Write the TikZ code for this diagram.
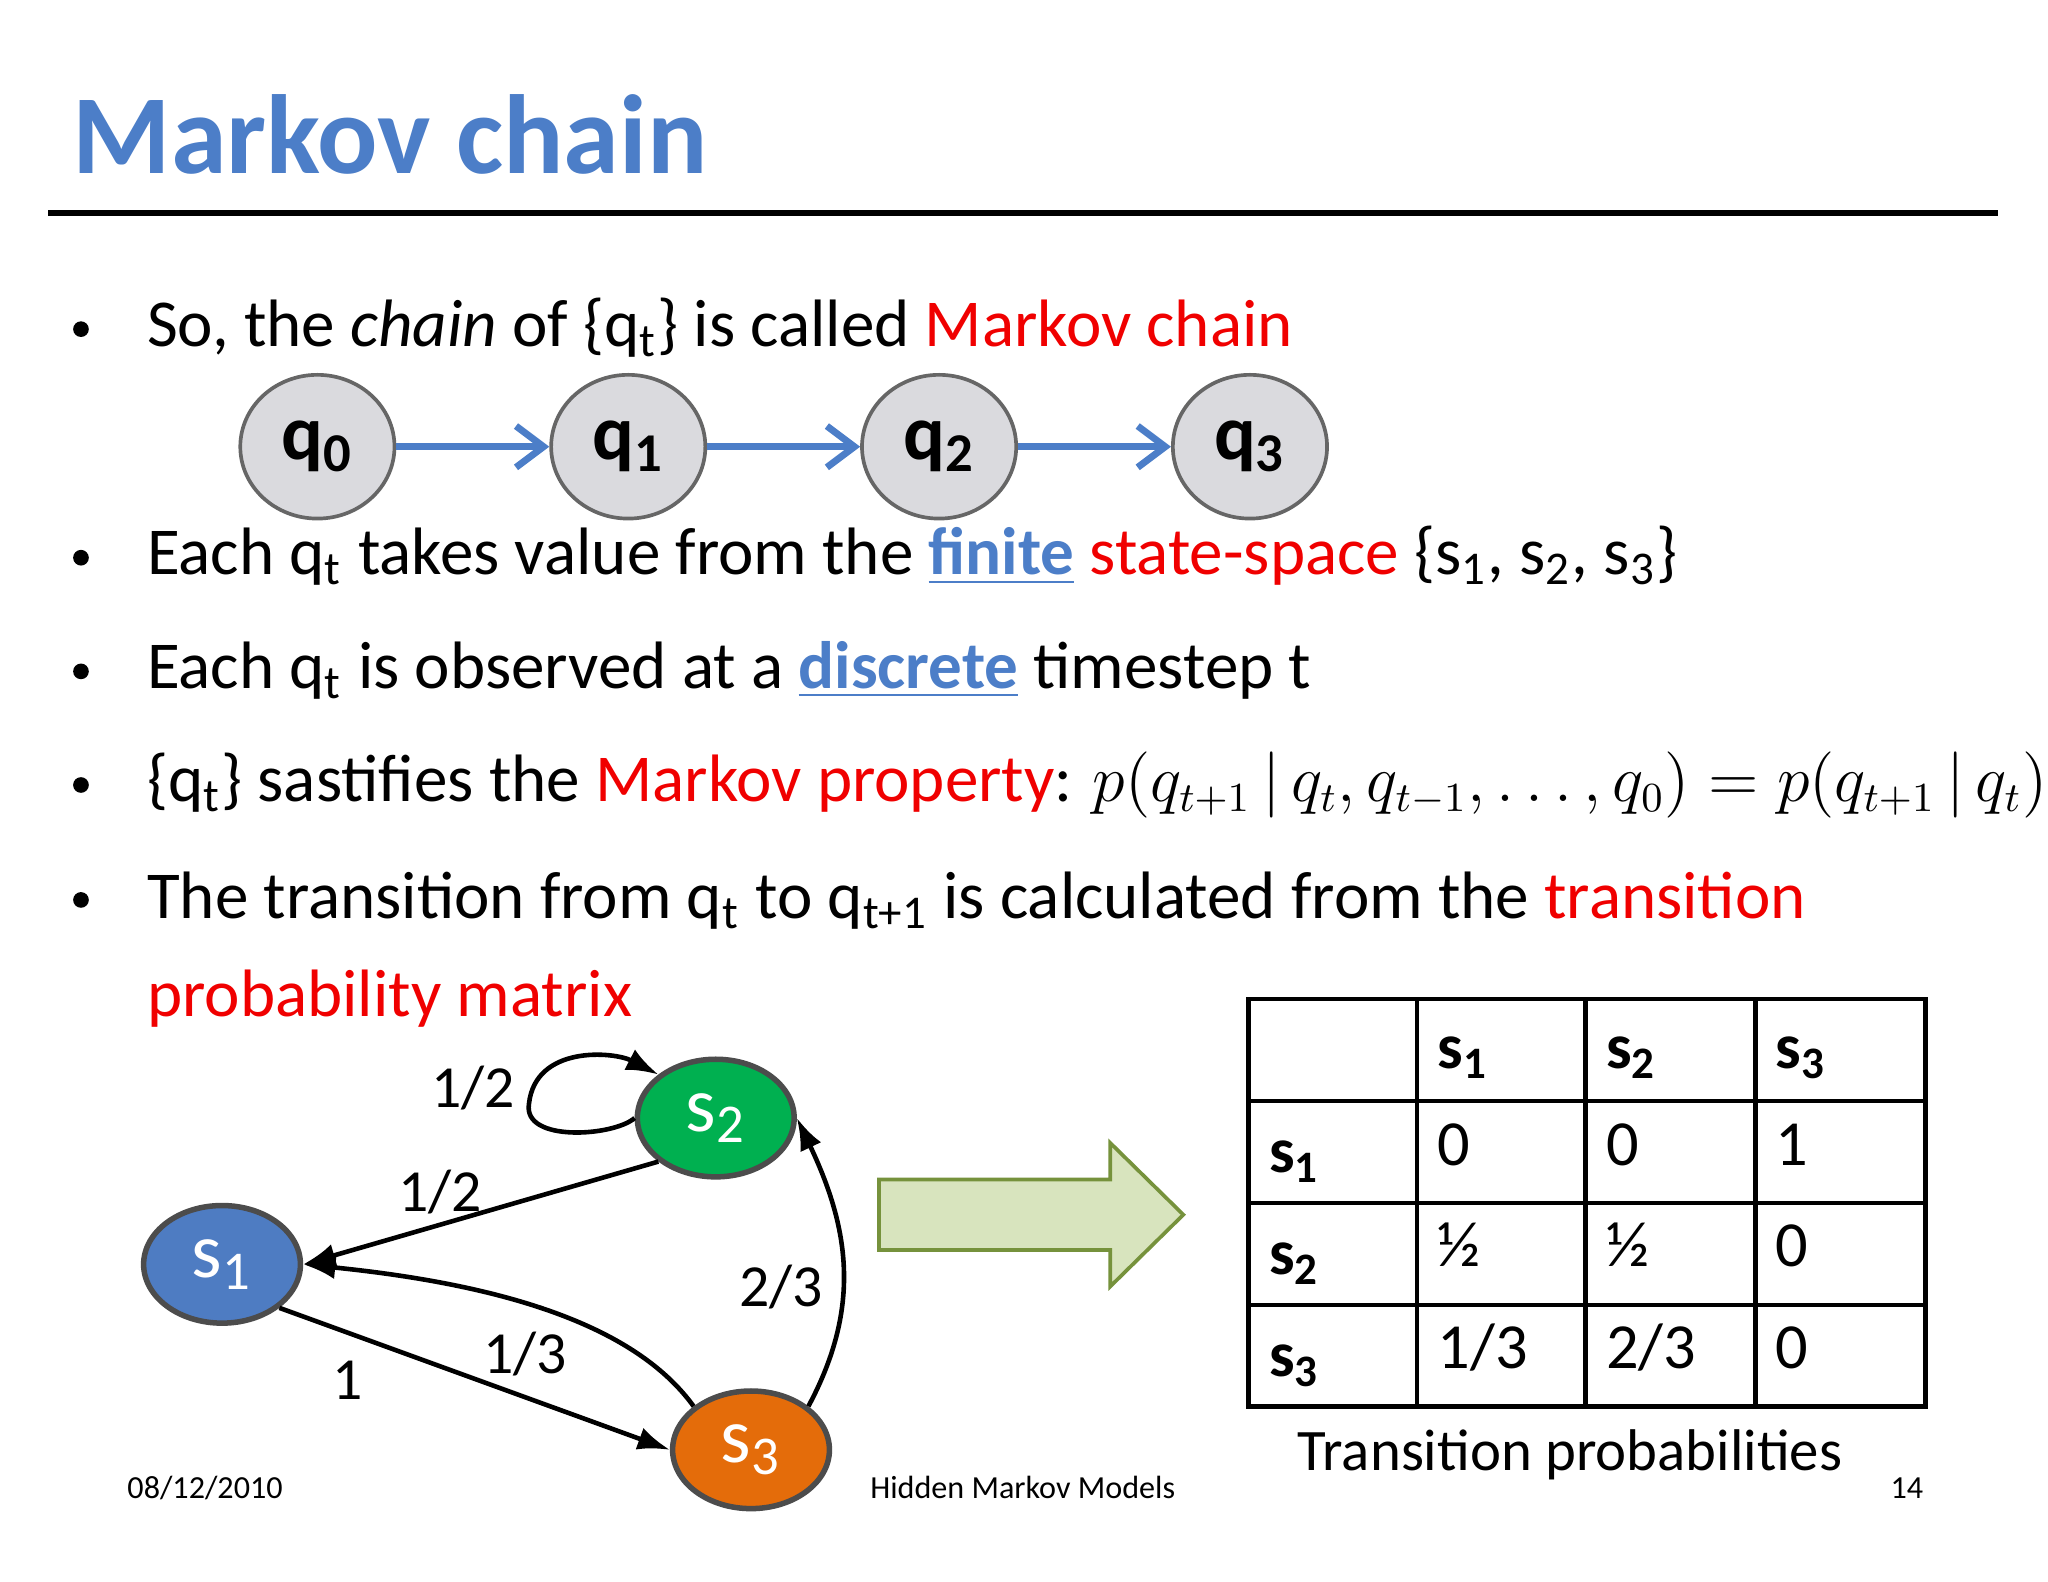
\documentclass[tikz,border=0pt]{standalone}
\usepackage{fontspec}
\setmainfont{Carlito}
\usetikzlibrary{arrows.meta,shapes.geometric}
\definecolor{ttl}{RGB}{76,126,200}
\definecolor{qfill}{RGB}{218,218,222}
\definecolor{sone}{RGB}{78,124,194}
\definecolor{stwo}{RGB}{0,176,80}
\definecolor{sthree}{RGB}{228,108,10}
\definecolor{arrf}{RGB}{216,228,190}
\definecolor{arrd}{RGB}{118,146,60}
\definecolor{redt}{RGB}{240,0,0}
\begin{document}
\begin{tikzpicture}[x=0.01cm,y=0.01cm,
  txt/.style={anchor=base west,inner sep=0,font=\fontsize{14.6pt}{18pt}\selectfont},
  qn/.style={ellipse,draw=gray!80!black,fill=qfill,minimum width=1.18cm,minimum height=1.1cm,inner sep=0,line width=0.8pt,font=\fontsize{17pt}{20pt}\selectfont\bfseries},
  sn/.style={ellipse,draw=black!70,line width=1.2pt,minimum width=1.2cm,minimum height=0.9cm,inner sep=0,text=white,font=\fontsize{17pt}{20pt}\selectfont},
  qa/.style={-{Straight Barb[length=6pt,width=9pt]},draw=ttl,line width=1.5pt},
  ga/.style={-{Latex[length=7pt,width=5pt]},line width=1pt},
  lab/.style={font=\fontsize{13pt}{15pt}\selectfont,inner sep=1pt},
  cell/.style={anchor=base west,inner sep=0,font=\fontsize{14pt}{17pt}\selectfont},
  hcell/.style={anchor=base west,inner sep=0,font=\fontsize{14pt}{17pt}\selectfont\bfseries},
  foot/.style={font=\fontsize{7pt}{9pt}\selectfont,anchor=base,inner sep=0}]
\useasboundingbox[fill=white] (0,0) rectangle (1568,-1211);
\node[anchor=base west,inner sep=0,text=ttl,font=\fontsize{24.5pt}{30pt}\selectfont\bfseries] (title) at (55,-133) {Markov chain};
\draw[line width=1.2pt] (37,-163) -- (1530,-163);
\foreach \y in {-252,-427,-514,-601,-689} \fill (62,\y) circle (6);
\node[txt] (b1) at (112,-265) {So, the \textit{chain} of \{q\textsubscript{t}\} is called \textcolor{redt}{Markov chain}};
\node[qn] (q0) at (243,-342) {q\textsubscript{0}};
\node[qn] (q1) at (481,-342) {q\textsubscript{1}};
\node[qn] (q2) at (719,-342) {q\textsubscript{2}};
\node[qn] (q3) at (957,-342) {q\textsubscript{3}};
\draw[qa] (q0) -- (q1); \draw[qa] (q1) -- (q2); \draw[qa] (q2) -- (q3);
\node[txt] (b2) at (112,-440) {Each q\textsubscript{t} takes value from the \textcolor{ttl}{\textbf{\underline{finite}}} \textcolor{redt}{state-space} \{s\textsubscript{1}, s\textsubscript{2}, s\textsubscript{3}\}};
\node[txt] (b3) at (112,-527) {Each q\textsubscript{t} is observed at a \textcolor{ttl}{\textbf{\underline{discrete}}} timestep t};
\node[txt] (b4) at (112,-614) {\{q\textsubscript{t}\} sastifies the \textcolor{redt}{Markov property}: {\fontsize{13.5pt}{16pt}\selectfont$p\big(q_{t+1}\,|\,q_t,q_{t-1},\ldots,q_0\big)=p\big(q_{t+1}\,|\,q_t\big)$}};
\node[txt] (b5) at (112,-703) {The transition from q\textsubscript{t} to q\textsubscript{t+1} is calculated from the \textcolor{redt}{transition}};
\node[txt,text=redt] (b6) at (112,-778) {probability matrix};
% graph
\node[sn,fill=sone] (s1) at (170,-968) {s\textsubscript{1}};
\node[sn,fill=stwo] (s2) at (548,-856) {s\textsubscript{2}};
\node[sn,fill=sthree] (s3) at (575,-1110) {s\textsubscript{3}};
\draw[ga] (s2.west) .. controls (470,-870) and (400,-875) .. (405,-845) .. controls (410,-800) and (470,-805) .. (s2.north west);
\node[lab] (l1) at (362,-833) {1/2};
\draw[ga] (s2.south west) -- (s1.east);
\node[lab] (l2) at (337,-913) {1/2};
\draw[ga] (s3.north west) .. controls (490,-1020) and (400,-985) .. (s1.east);
\node[lab] (l3) at (402,-1037) {1/3};
\draw[ga] (s1.south east) -- (s3.west);
\node[lab] (l4) at (266,-1057) {1};
\draw[ga] (s3.north east) .. controls (660,-1000) and (650,-940) .. (s2.east);
\node[lab] (l5) at (598,-985) {2/3};
% big arrow
\draw[draw=arrd,fill=arrf,line width=0.8pt] (673,-903) -- (850,-903) -- (850,-875) -- (906,-930) -- (850,-985) -- (850,-957) -- (673,-957) -- cycle;
% table
\draw[line width=1pt] (956,-765) rectangle (1474,-1077);
\foreach \x in {1085,1214,1344} \draw[line width=1pt] (\x,-765) -- (\x,-1077);
\foreach \y in {-843,-921,-999} \draw[line width=1pt] (956,\y) -- (1474,\y);
\node[hcell] (h1) at (1100,-818) {s\textsubscript{1}};
\node[hcell] (h2) at (1229,-818) {s\textsubscript{2}};
\node[hcell] (h3) at (1359,-818) {s\textsubscript{3}};
\node[hcell] (r1) at (971,-898) {s\textsubscript{1}};
\node[hcell] (r2) at (971,-976) {s\textsubscript{2}};
\node[hcell] (r3) at (971,-1054) {s\textsubscript{3}};
\node[cell] (c11) at (1100,-892) {0}; \node[cell] (c12) at (1229,-892) {0}; \node[cell] (c13) at (1359,-892) {1};
\node[cell] (c21) at (1100,-970) {½}; \node[cell] (c22) at (1229,-970) {½}; \node[cell] (c23) at (1359,-970) {0};
\node[cell] (c31) at (1100,-1048) {1/3}; \node[cell] (c32) at (1229,-1048) {2/3}; \node[cell] (c33) at (1359,-1048) {0};
\node[anchor=base,inner sep=0,font=\fontsize{12.8pt}{16pt}\selectfont] (cap) at (1202,-1126) {Transition probabilities};
% footer
\node[foot] (f1) at (157,-1147) {08/12/2010};
\node[foot] (f2) at (783,-1147) {Hidden Markov Models};
\node[foot] (f3) at (1460,-1147) {14};
\end{tikzpicture}
\end{document}
